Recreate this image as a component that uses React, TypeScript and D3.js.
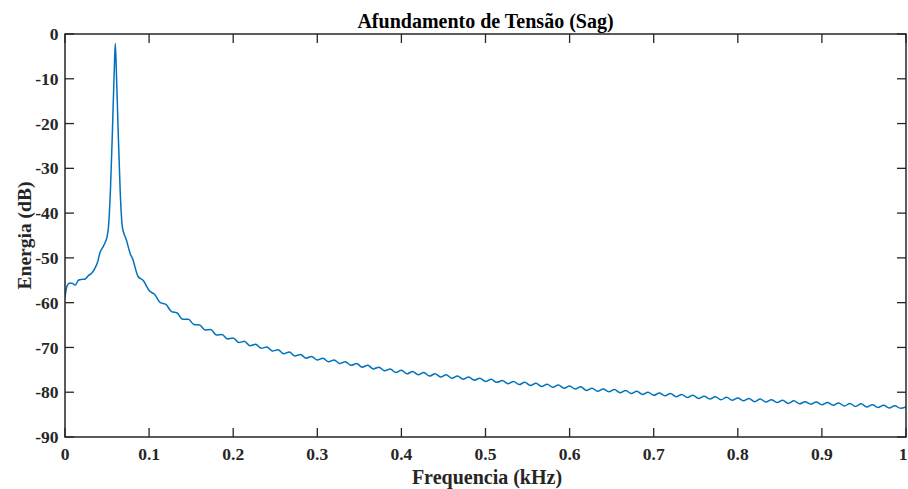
import React from 'react';
import * as d3 from 'd3';

// Frequency (kHz) and energy (dB), low-frequency part incl. the 60 Hz peak
const lowFreq = [
  0.0, 0.0025, 0.006, 0.009, 0.012, 0.016, 0.02, 0.024, 0.028, 0.032, 0.0357, 0.039, 0.0416,
  0.045, 0.0476, 0.05, 0.0515, 0.054, 0.0565, 0.0585, 0.0598, 0.0611, 0.0631, 0.0656, 0.0681,
  0.07, 0.073, 0.0753, 0.078,
];
const lowDb = [
  -58.8, -56.2, -55.6, -55.7, -56.1, -55.0, -54.8, -54.7, -53.9, -53.4, -52.3, -50.8, -48.8,
  -47.6, -46.6, -45.3, -43.5, -35.0, -21.0, -8.5, -2.1, -8.5, -21.0, -35.0, -43.0,
  -44.5, -46.0, -47.6, -49.3,
];

// Tail of the spectrum (rippled decay)
const tailFreq = [
  0.08, 0.0867, 0.0933,
  0.1, 0.1067, 0.1133, 0.12, 0.1267, 0.1333, 0.14, 0.1467, 0.1533, 0.16, 0.1667, 0.1733, 0.18, 0.1867, 0.1933,
  0.2, 0.2067, 0.2133, 0.22, 0.2267, 0.2333, 0.24, 0.2467, 0.2533, 0.26, 0.2667, 0.2733, 0.28, 0.2867, 0.2933,
  0.3, 0.3067, 0.3133, 0.32, 0.3267, 0.3333, 0.34, 0.3467, 0.3533, 0.36, 0.3667, 0.3733, 0.38, 0.3867, 0.3933,
  0.4, 0.4067, 0.4133, 0.42, 0.4267, 0.4333, 0.44, 0.4467, 0.4533, 0.46, 0.4667, 0.4733, 0.48, 0.4867, 0.4933,
  0.5, 0.5067, 0.5133, 0.52, 0.5267, 0.5333, 0.54, 0.5467, 0.5533, 0.56, 0.5667, 0.5733, 0.58, 0.5867, 0.5933,
  0.6, 0.6067, 0.6133, 0.62, 0.6267, 0.6333, 0.64, 0.6467, 0.6533, 0.66, 0.6667, 0.6733, 0.68, 0.6867, 0.6933,
  0.7, 0.7067, 0.7133, 0.72, 0.7267, 0.7333, 0.74, 0.7467, 0.7533, 0.76, 0.7667, 0.7733, 0.78, 0.7867, 0.7933,
  0.8, 0.8067, 0.8133, 0.82, 0.8267, 0.8333, 0.84, 0.8467, 0.8533, 0.86, 0.8667, 0.8733, 0.88, 0.8867, 0.8933,
  0.9, 0.9067, 0.9133, 0.92, 0.9267, 0.9333, 0.94, 0.9467, 0.9533, 0.96, 0.9667, 0.9733, 0.98, 0.9867, 0.9933,
  1.0,
];
const tailDb = [
  -50.0, -54.1, -55.1,
  -57.3, -58.2, -60.0, -60.4, -62.0, -62.3, -63.7, -63.7, -64.9, -65.0, -66.1, -66.0, -67.2, -67.1, -68.1,
  -67.9, -68.9, -68.6, -69.6, -69.3, -70.2, -69.9, -70.8, -70.5, -71.4, -71.0, -71.9, -71.6, -72.4, -72.0,
  -72.8, -72.4, -73.2, -72.8, -73.6, -73.2, -74.0, -73.6, -74.4, -74.0, -74.8, -74.4, -75.2, -74.8, -75.6,
  -75.1, -75.9, -75.4, -76.1, -75.6, -76.4, -75.9, -76.6, -76.1, -76.9, -76.4, -77.1, -76.6, -77.3, -76.9,
  -77.6, -77.1, -77.8, -77.4, -78.1, -77.6, -78.3, -77.8, -78.5, -78.0, -78.7, -78.2, -78.9, -78.4, -79.1,
  -78.6, -79.3, -78.8, -79.6, -79.1, -79.8, -79.3, -79.9, -79.4, -80.1, -79.6, -80.3, -79.8, -80.5, -80.0,
  -80.7, -80.2, -80.8, -80.3, -81.0, -80.5, -81.2, -80.7, -81.4, -80.9, -81.5, -81.0, -81.7, -81.1, -81.8,
  -81.3, -81.9, -81.4, -82.1, -81.5, -82.2, -81.7, -82.3, -81.8, -82.5, -81.9, -82.6, -82.1, -82.7, -82.2,
  -82.8, -82.3, -82.9, -82.4, -83.1, -82.5, -83.2, -82.6, -83.3, -82.8, -83.4, -82.9, -83.5, -83.0, -83.6,
  -83.3,
];

const xTicks = [0, 0.1, 0.2, 0.3, 0.4, 0.5, 0.6, 0.7, 0.8, 0.9, 1];
const xTickLabels = ['0', '0.1', '0.2', '0.3', '0.4', '0.5', '0.6', '0.7', '0.8', '0.9', '1'];
const yTicks = [0, -10, -20, -30, -40, -50, -60, -70, -80, -90];
const yTickLabels = ['0', '-10', '-20', '-30', '-40', '-50', '-60', '-70', '-80', '-90'];

const title = 'Afundamento de Tensão (Sag)';
const xLabel = 'Frequencia (kHz)';
const yLabel = 'Energia (dB)';

export default function App() {
  const W = 908;
  const H = 489;
  const left = 65, right = 906, top = 34, bottom = 437;
  const x = d3.scaleLinear().domain([0, 1]).range([left, right]);
  const y = d3.scaleLinear().domain([-90, 0]).range([bottom, top]);
  const freq = lowFreq.concat(tailFreq);
  const db = lowDb.concat(tailDb);
  const data: [number, number][] = freq.map((f, i) => [f, db[i]]);
  const line = d3
    .line<[number, number]>()
    .x((d) => x(d[0]))
    .y((d) => y(d[1]))
    .curve(d3.curveMonotoneX);
  const axisColor = '#262626';
  const font = "'Liberation Serif', 'Times New Roman', serif";
  const tickLen = 9;

  return (
    <svg
      width={W}
      height={H}
      style={{ position: 'absolute', left: 0, top: 0, background: '#fff' }}
      fontFamily={font}
    >
      <rect x={0} y={0} width={W} height={H} fill="#fff" />
      <defs>
        <clipPath id="plotClip">
          <rect x={left} y={top} width={right - left} height={bottom - top} />
        </clipPath>
      </defs>
      <path
        d={line(data) || ''}
        fill="none"
        stroke="#0072BD"
        strokeWidth={1.5}
        clipPath="url(#plotClip)"
      />
      {/* box */}
      <rect
        x={left}
        y={top}
        width={right - left}
        height={bottom - top}
        fill="none"
        stroke={axisColor}
        strokeWidth={1.5}
      />
      {/* x ticks */}
      {xTicks.map((t, i) => {
        const last = i === xTicks.length - 1;
        return (
          <g key={'xt' + i}>
            <line x1={x(t)} x2={x(t)} y1={bottom} y2={bottom - tickLen} stroke={axisColor} strokeWidth={1.3} />
            <line x1={x(t)} x2={x(t)} y1={top} y2={top + tickLen} stroke={axisColor} strokeWidth={1.3} />
            <text
              x={last ? W - 0.5 : x(t)}
              y={460}
              textAnchor={last ? 'end' : 'middle'}
              fontSize={17.5}
              fontWeight="bold"
              fill={axisColor}
            >
              {xTickLabels[i]}
            </text>
          </g>
        );
      })}
      {/* y ticks */}
      {yTicks.map((t, i) => (
        <g key={'yt' + i}>
          <line x1={left} x2={left + tickLen} y1={y(t)} y2={y(t)} stroke={axisColor} strokeWidth={1.3} />
          <line x1={right} x2={right - tickLen} y1={y(t)} y2={y(t)} stroke={axisColor} strokeWidth={1.3} />
          <text
            x={58.5}
            y={y(t)}
            dy="0.35em"
            textAnchor="end"
            fontSize={17.5}
            fontWeight="bold"
            fill={axisColor}
          >
            {yTickLabels[i]}
          </text>
        </g>
      ))}
      <text x={(left + right) / 2} y={28} textAnchor="middle" fontSize={20} fontWeight="bold" fill="#000">
        {title}
      </text>
      <text x={487} y={484} textAnchor="middle" fontSize={20} fontWeight="bold" fill={axisColor}>
        {xLabel}
      </text>
      <text
        transform={`translate(30.5, ${(top + bottom) / 2}) rotate(-90)`}
        textAnchor="middle"
        fontSize={19.5}
        fontWeight="bold"
        fill={axisColor}
      >
        {yLabel}
      </text>
    </svg>
  );
}
